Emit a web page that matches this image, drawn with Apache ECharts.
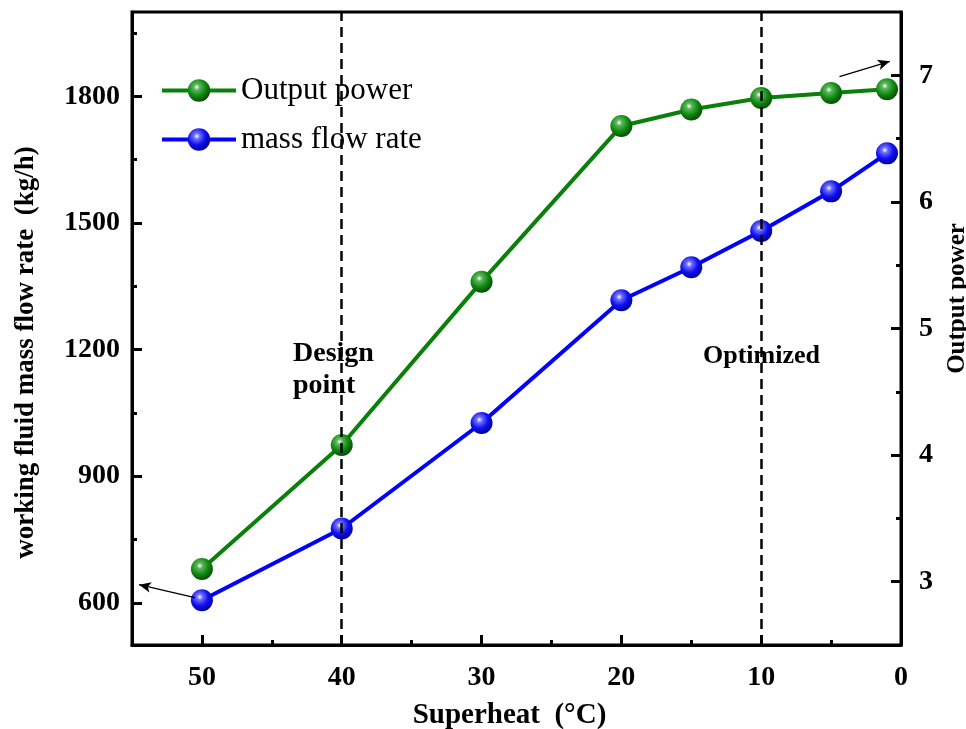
<!DOCTYPE html>
<html lang="en">
<head>
    <meta charset="UTF-8">
    <title>Superheat</title>
    <script src="https://cdn.jsdelivr.net/npm/echarts@6/dist/echarts.min.js"></script>
    <style>
        html, body { margin: 0; background: #fff; }
    </style>
</head>
<body>
<div id="main" style="width: 966px;height:729px;"></div>
<script>
    // data
    const superheat = [50, 40, 30, 20, 15, 10, 5, 1]
    const massFlow = [606, 776, 1026, 1317, 1395, 1481, 1575, 1665]
    const outputPower = [3.10, 4.08, 5.37, 6.60, 6.73, 6.82, 6.86, 6.89]
    const guides = [40, 10]

    const xMajor = [0, 10, 20, 30, 40, 50]
    const xMinor = [5, 15, 25, 35, 45]
    const leftMajor = [600, 900, 1200, 1500, 1800]
    const leftMinor = [750, 1050, 1350, 1650, 1950]
    const rightMajor = [3, 4, 5, 6, 7]
    const rightMinor = [3.5, 4.5, 5.5, 6.5]

    const serif = '"Liberation Serif", "Times New Roman", serif'

    function ball(c1, c2, c3) {
        return {
            type: 'radial', x: 0.4, y: 0.35, r: 0.65,
            colorStops: [
                { offset: 0, color: '#ffffff' },
                { offset: 0.2, color: c1 },
                { offset: 0.6, color: c2 },
                { offset: 1, color: c3 }
            ]
        }
    }

    const tickFont = { fontFamily: serif, fontWeight: 'bold', fontSize: 28, color: '#000' }
    const nameFont = { fontFamily: serif, fontWeight: 'bold', fontSize: 27, color: '#000' }

    function ticks(vals, len) {
        return { show: true, inside: true, length: len, customValues: vals, lineStyle: { color: '#000', width: 3 } }
    }
    // onZero off, otherwise the left axis jumps to x = 0 (right side, x is inverted)
    const line = () => ({ show: true, onZero: false, lineStyle: { color: '#000', width: 3 } })
    const noLine = () => ({ show: false, onZero: false })

    // two grids on the same rectangle: grid 0 carries the data and major ticks,
    // grid 1 only carries the short minor ticks
    const rect = { left: 132, right: 65, top: 12, bottom: 84, outerBoundsMode: 'none' }

    const option = {
        backgroundColor: '#fff',
        animation: false,
        grid: [
            Object.assign({ show: true, borderColor: '#000', borderWidth: 3 }, rect),
            Object.assign({}, rect)
        ],
        legend: {
            orient: 'vertical', left: 155, top: 70,
            itemWidth: 74, itemHeight: 28, itemGap: 18,
            lineStyle: { width: 4 },
            textStyle: { fontFamily: serif, fontSize: 31, color: '#000' },
            data: ['Output power', 'mass flow rate']
        },
        xAxis: [
            {
                type: 'value', gridIndex: 0, position: 'bottom', inverse: true, min: 0, max: 55,
                splitLine: { show: false },
                axisLine: line(),
                axisTick: ticks(xMajor, 10),
                axisLabel: Object.assign({ customValues: xMajor, margin: 19 }, tickFont),
                name: 'Superheat  (°C)', nameLocation: 'middle', nameGap: 56,
                nameTextStyle: Object.assign({}, nameFont, { fontSize: 29, verticalAlign: 'top', padding: [0, 14, 0, 0] })
            },
            {
                type: 'value', gridIndex: 1, position: 'bottom', inverse: true, min: 0, max: 55,
                splitLine: { show: false }, axisLine: noLine(), axisLabel: { show: false },
                axisTick: ticks(xMinor, 5)
            }
        ],
        yAxis: [
            {
                type: 'value', gridIndex: 0, position: 'left', min: 500, max: 2000,
                splitLine: { show: false },
                axisLine: line(),
                axisTick: ticks(leftMajor, 10),
                axisLabel: Object.assign({ customValues: leftMajor, margin: 12, formatter: v => String(v) }, tickFont),
                name: 'working fluid mass flow rate  (kg/h)', nameLocation: 'middle', nameGap: 92,
                nameTextStyle: Object.assign({}, nameFont, { padding: [0, 48, 0, 0] })
            },
            {
                type: 'value', gridIndex: 0, position: 'right', min: 2.5, max: 7.5,
                splitLine: { show: false },
                axisLine: line(),
                axisTick: ticks(rightMajor, 10),
                axisLabel: Object.assign({ customValues: rightMajor, margin: 18 }, tickFont),
                name: 'Output power', nameLocation: 'middle', nameGap: 44, nameRotate: 90,
                nameTextStyle: Object.assign({}, nameFont, { fontSize: 25, padding: [0, 0, 0, 60] })
            },
            {
                type: 'value', gridIndex: 1, position: 'left', min: 500, max: 2000,
                splitLine: { show: false }, axisLine: noLine(), axisLabel: { show: false },
                axisTick: ticks(leftMinor, 5)
            },
            {
                type: 'value', gridIndex: 1, position: 'right', min: 2.5, max: 7.5,
                splitLine: { show: false }, axisLine: noLine(), axisLabel: { show: false },
                axisTick: ticks(rightMinor, 5)
            }
        ],
        graphic: [
            { type: 'text', left: 293, top: 338, style: { text: 'Design\npoint', font: 'bold 28px "Liberation Serif"', lineHeight: 32, fill: '#000' } },
            { type: 'text', left: 703, top: 343, style: { text: 'Optimized', font: 'bold 26px "Liberation Serif"', fill: '#000' } }
        ],
        series: [
            {
                name: 'Output power', type: 'line', xAxisIndex: 0, yAxisIndex: 1,
                data: superheat.map((x, i) => [x, outputPower[i]]),
                symbol: 'circle', symbolSize: 22,
                lineStyle: { color: '#0a800a', width: 4 },
                itemStyle: { color: ball('#5cb85c', '#138a13', '#045004') },
                z: 3,
                markLine: {
                    silent: true, symbol: ['none', 'arrow'], symbolSize: [8, 12],
                    label: { show: false },
                    lineStyle: { color: '#000', width: 1.3, type: 'solid' },
                    data: [[{ coord: [4.4, 6.99] }, { coord: [0.8, 7.11] }]]
                }
            },
            {
                name: 'mass flow rate', type: 'line', xAxisIndex: 0, yAxisIndex: 0,
                data: superheat.map((x, i) => [x, massFlow[i]]),
                symbol: 'circle', symbolSize: 22,
                lineStyle: { color: '#0000ff', width: 4 },
                itemStyle: { color: ball('#7070ff', '#1010f0', '#0000a0') },
                z: 3,
                markLine: {
                    silent: true, symbol: ['none', 'arrow'], symbolSize: [8, 12],
                    label: { show: false },
                    lineStyle: { color: '#000', width: 1.3, type: 'solid' },
                    data: [[{ coord: [50.5, 612] }, { coord: [54.5, 643] }]]
                }
            },
            {
                name: 'guides', type: 'line', xAxisIndex: 0, yAxisIndex: 0,
                data: [],
                markLine: {
                    silent: true, symbol: 'none',
                    label: { show: false },
                    lineStyle: { color: '#000', width: 2.5, type: [10, 6] },
                    data: guides.map(v => ({ xAxis: v }))
                }
            }
        ]
    }

    let myChart = echarts.init(document.getElementById('main'))
    myChart.setOption(option)
</script>
</body>
</html>
